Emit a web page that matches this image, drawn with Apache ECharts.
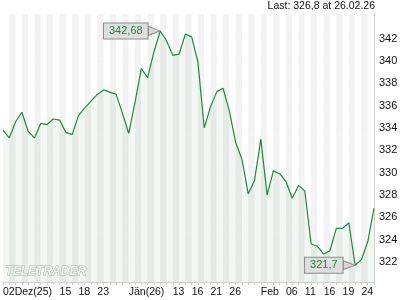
<!DOCTYPE html>
<html><head><meta charset="utf-8">
<script src="https://cdn.jsdelivr.net/npm/echarts@6/dist/echarts.min.js"></script>
<style>html,body{margin:0;padding:0;background:#fff}#c{width:420px;height:300px}</style>
</head><body><div id="c"></div>
<script>
const categories = [
  '02.12.25','03.12.25','04.12.25','05.12.25','08.12.25','09.12.25','10.12.25','11.12.25','12.12.25','15.12.25',
  '16.12.25','17.12.25','18.12.25','19.12.25','22.12.25','23.12.25','24.12.25','29.12.25','30.12.25','31.12.25',
  '02.01.26','05.01.26','06.01.26','07.01.26','08.01.26','09.01.26','12.01.26','13.01.26','14.01.26','15.01.26',
  '16.01.26','19.01.26','20.01.26','21.01.26','22.01.26','23.01.26','26.01.26','27.01.26','28.01.26','29.01.26',
  '30.01.26','02.02.26','03.02.26','04.02.26','05.02.26','06.02.26','09.02.26','10.02.26','11.02.26','12.02.26',
  '13.02.26','16.02.26','17.02.26','18.02.26','19.02.26','20.02.26','23.02.26','24.02.26','25.02.26','26.02.26'
];
const prices = [
  333.8, 333.1, 334.55, 335.4, 333.7, 333.1, 334.4, 334.3, 334.8, 334.7,
  333.6, 333.4, 335.1, 335.8, 336.4, 337.0, 337.4, 337.2, 337.0, 335.3,
  333.5, 336.3, 339.3, 338.5, 340.8, 342.68, 341.8, 340.5, 340.6, 342.4,
  342.15, 339.9, 334.0, 335.9, 337.25, 337.55, 335.5, 332.7, 331.2, 328.1,
  329.3, 333.0, 328.0, 330.15, 329.9, 329.2, 327.7, 328.85, 328.35, 323.6,
  323.4, 322.7, 323.0, 325.0, 325.0, 325.5, 321.7, 322.2, 323.8, 326.8
];
const xTickLabels = {
  '02.12.25':'02Dez(25)', '15.12.25':'15', '18.12.25':'18', '23.12.25':'23',
  '02.01.26':'Jän(26)', '13.01.26':'13', '16.01.26':'16', '21.01.26':'21', '26.01.26':'26',
  '02.02.26':'Feb', '06.02.26':'06', '11.02.26':'11', '16.02.26':'16', '19.02.26':'19', '24.02.26':'24'
};
const yTickValues = [322, 324, 326, 328, 330, 332, 334, 336, 338, 340, 342];
const lastText = 'Last: 326,8 at 26.02.26';
const logoText = 'TELETRADER';

const FONT = '"Liberation Sans", Arial, sans-serif';
const chart = echarts.init(document.getElementById('c'), null, {renderer: 'canvas'});
chart.setOption({
  animation: false,
  backgroundColor: '#ffffff',
  title: {
    text: lastText, right: 45, top: 1, padding: 0,
    textStyle: {fontSize: 10.5, fontWeight: 'normal', color: '#111', fontFamily: FONT}
  },
  grid: {left: 3, right: 46, top: 14, bottom: 18, containLabel: false},
  xAxis: {
    type: 'category', data: categories, boundaryGap: false,
    axisLine: {show: true, lineStyle: {color: '#cfcfcf', width: 1}},
    axisTick: {show: true, interval: 0, length: 3, lineStyle: {color: '#cfcfcf'}},
    axisLabel: {
      interval: 0, align: 'left', margin: 5, fontSize: 10.5, color: '#111', fontFamily: FONT,
      formatter: (v) => xTickLabels[v] || ''
    },
    splitLine: {show: false},
    splitArea: {show: true, interval: 0, areaStyle: {color: ['#ffffff', '#f2f2f2']}}
  },
  yAxis: {
    type: 'value', position: 'right', min: 320.2, max: 344.2, scale: true,
    axisLine: {show: true, lineStyle: {color: '#d2d2d2'}},
    axisTick: {show: false, customValues: yTickValues},
    axisLabel: {customValues: yTickValues, margin: 5, fontSize: 11, color: '#111', fontFamily: FONT},
    splitLine: {show: true, lineStyle: {color: '#dcdcdc', width: 1}}
  },
  graphic: [{
    type: 'text', left: 5, top: 265, silent: true, z: 10,
    style: {text: logoText, font: 'bold italic 12px ' + FONT, fill: '#eef2ee', stroke: '#a9b1a9', lineWidth: 0.9}
  }],
  series: [{
    type: 'line', data: prices, symbol: 'none', smooth: false,
    lineStyle: {color: '#1f8a3e', width: 1.2},
    areaStyle: {color: 'rgba(70,130,70,0.09)'},
    markPoint: {
      symbol: 'path://M0,0L12,4L0,8Z', symbolSize: [12, 9], symbolOffset: [-6, 0], symbolKeepAspect: false,
      itemStyle: {color: '#d6d6d6', borderColor: '#8c8c8c', borderWidth: 1},
      label: {
        show: true, position: 'left', distance: 0,
        formatter: (p) => String(p.value).replace('.', ','),
        color: '#1e8b3c', fontSize: 11, fontFamily: FONT,
        backgroundColor: '#dedede', borderColor: '#8c8c8c', borderWidth: 1, padding: [2, 5, 2, 5]
      },
      data: [{type: 'max'}, {type: 'min'}]
    }
  }]
});
</script></body></html>
